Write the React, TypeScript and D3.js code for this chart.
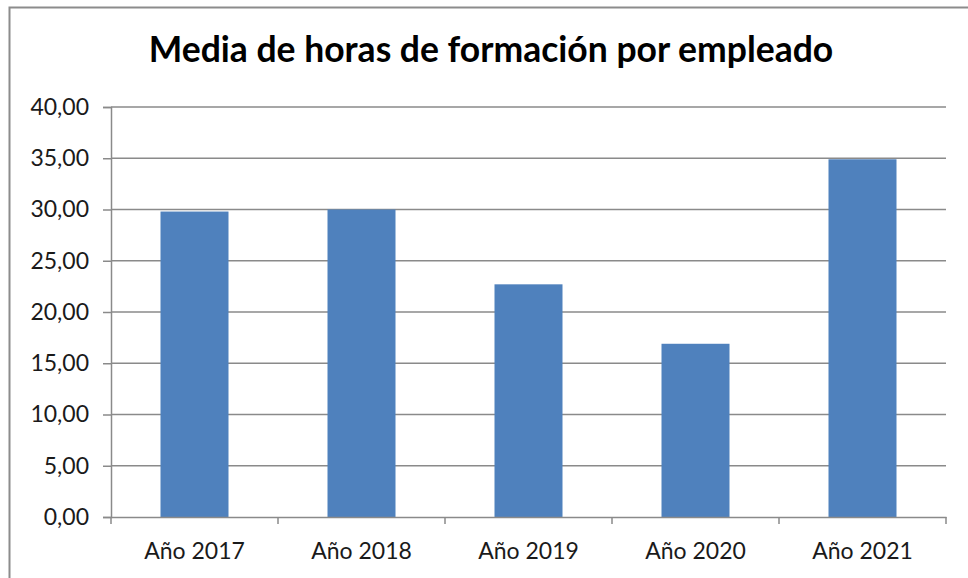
import * as d3 from 'd3';
import { useEffect, useRef } from 'react';

const years = ['Año 2017', 'Año 2018', 'Año 2019', 'Año 2020', 'Año 2021'];
const hours = [29.8, 30.0, 22.7, 16.9, 34.9];
const yTicks = [0, 5, 10, 15, 20, 25, 30, 35, 40];
const title = 'Media de horas de formación por empleado';

const W = 968;
const H = 578;
const FONT = 'Lato, "Open Sans", sans-serif';

export default function App() {
  const svgRef = useRef<SVGSVGElement>(null);

  useEffect(() => {
    drawChart(svgRef.current!);
  }, []);

  return (
    <svg
      ref={svgRef}
      width={W}
      height={H}
      style={{ position: 'fixed', left: 0, top: 0, background: '#fff' }}
    />
  );
}

function drawChart(el: SVGSVGElement) {
  const svg = d3.select(el);
  svg.selectAll('*').remove();

  const left = 111;
  const right = 946;
  const top = 107;
  const bottom = 517;

  const x = d3.scaleBand().domain(years).range([left, right]).paddingInner(0).paddingOuter(0);
  const y = d3.scaleLinear().domain([0, 40]).range([bottom, top]);

  // outer frame (only top and left edges show)
  svg.append('rect')
    .attr('x', 9.5).attr('y', 7.5)
    .attr('width', 1000).attr('height', 1000)
    .attr('fill', 'none')
    .attr('stroke', '#8c8c8c')
    .attr('stroke-width', 2);

  svg.append('text')
    .attr('x', 491).attr('y', 62)
    .attr('text-anchor', 'middle')
    .attr('font-family', FONT)
    .attr('font-weight', 700)
    .attr('font-size', 35.5)
    .attr('fill', '#000')
    .text(title);

  // gridlines
  svg.append('g')
    .selectAll('line')
    .data(yTicks.filter(t => t > 0))
    .enter()
    .append('line')
    .attr('x1', left).attr('x2', right)
    .attr('y1', d => y(d)).attr('y2', d => y(d))
    .attr('stroke', '#8a8a8a')
    .attr('stroke-width', 1.5);

  // bars
  const bw = 68;
  svg.append('g')
    .selectAll('rect')
    .data(hours)
    .enter()
    .append('rect')
    .attr('x', (d, i) => x(years[i])! + x.bandwidth() / 2 - bw / 2)
    .attr('y', d => y(d))
    .attr('width', bw)
    .attr('height', d => bottom - y(d))
    .attr('fill', '#4f81bd');

  // y axis
  const yAxis = d3.axisLeft(y)
    .tickValues(yTicks)
    .tickSize(8)
    .tickPadding(14)
    .tickFormat(d => d3.format('.2f')(d as number).replace('.', ','));

  const gy = svg.append('g')
    .attr('transform', `translate(${left},0)`)
    .call(yAxis);
  gy.select('.domain').attr('stroke', '#8a8a8a').attr('stroke-width', 1.5);
  gy.selectAll('.tick line').attr('stroke', '#8a8a8a').attr('stroke-width', 1.5);
  gy.selectAll('.tick text')
    .attr('font-family', FONT)
    .attr('font-size', 23)
    .attr('fill', '#1a1a1a');

  // x axis
  const xAxis = d3.axisBottom(x).tickSize(0).tickPadding(26);
  const gx = svg.append('g')
    .attr('transform', `translate(0,${bottom})`)
    .call(xAxis);
  gx.select('.domain').attr('stroke', '#8a8a8a').attr('stroke-width', 1.5);
  gx.selectAll('.tick text')
    .attr('font-family', FONT)
    .attr('font-size', 23)
    .attr('fill', '#1a1a1a');

  // category boundary ticks
  const bounds = years.map(c => x(c)!).concat([right]);
  gx.append('g')
    .selectAll('line')
    .data(bounds)
    .enter()
    .append('line')
    .attr('x1', d => d).attr('x2', d => d)
    .attr('y1', 0).attr('y2', 7)
    .attr('stroke', '#8a8a8a')
    .attr('stroke-width', 1.5);
}
